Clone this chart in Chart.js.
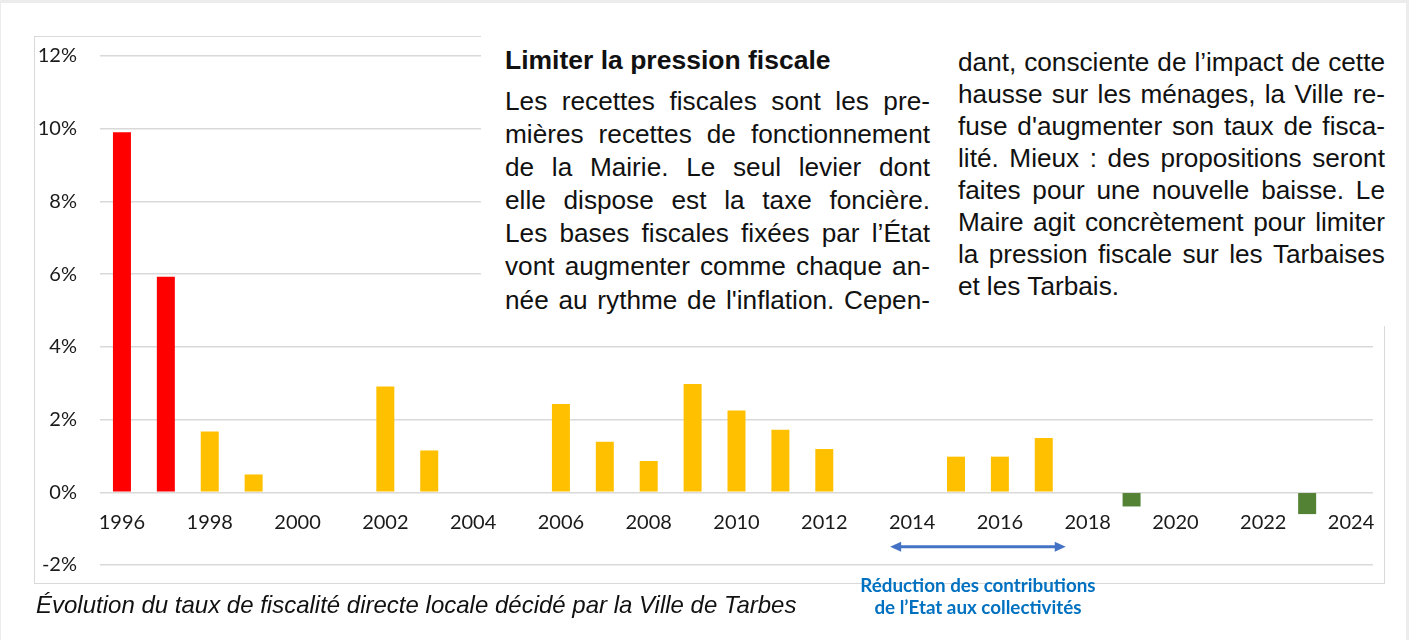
<!DOCTYPE html>
<html lang="fr">
<head>
<meta charset="utf-8">
<title>Évolution du taux de fiscalité directe locale – Tarbes</title>
<script src="https://cdn.jsdelivr.net/npm/chart.js@4.4.1/dist/chart.umd.min.js"></script>
<style>
  html, body { margin: 0; padding: 0; }
  body { width: 1409px; height: 640px; background: #ececec; position: relative; overflow: hidden; }
  #page { position: absolute; left: 1px; top: 3px; width: 1405px; height: 637px; background: #fff; }
  #frame { position: absolute; left: 34px; top: 36px; width: 1349px; height: 546px; border: 1px solid #d9d9d9; }
  #chart { position: absolute; left: 0; top: 0; }
  #textbox { position: absolute; left: 481px; top: 30px; width: 925px; height: 296px; background: #fff; }
  .col { position: absolute; font-family: "Liberation Sans", Arial, Helvetica, sans-serif; font-size: 26.2px; color: #111; }
  .line { display: flex; justify-content: space-between; white-space: nowrap; }
  #col1 .line { height: 33.2px; line-height: 33.2px; }
  #col2 .line { height: 32px; line-height: 32px; }
  .line.last { justify-content: flex-start; gap: 7px; }
  h2 { margin: 0; font-size: 26.5px; font-weight: bold; line-height: 32px; height: 40.5px; }
  #caption { position: absolute; left: 36px; top: 591px; font-family: "Liberation Sans", Arial, sans-serif; font-style: italic; font-size: 24px; color: #111; }
</style>
</head>
<body>
<div id="page"></div>
<div id="frame"></div>
<canvas id="chart" width="1409" height="640"></canvas>
<div id="textbox">
  <div class="col" id="col1" style="left:24px; top:14px; width:425px;">
    <h2>Limiter la pression fiscale</h2>
  </div>
  <div class="col" id="col2" style="left:477px; top:16px; width:427px;"></div>
</div>
<div id="caption">Évolution du taux de fiscalité directe locale décidé par la Ville de Tarbes</div>
<script>
// years on the x axis
const years = ['1996', '1997', '1998', '1999', '2000', '2001', '2002', '2003', '2004', '2005',
  '2006', '2007', '2008', '2009', '2010', '2011', '2012', '2013', '2014', '2015',
  '2016', '2017', '2018', '2019', '2020', '2021', '2022', '2023', '2024'];

// variation du taux (%), null = pas de changement
const rates = [9.9, 5.93, 1.67, 0.49, null, null, 2.91, 1.15, null, null,
  2.43, 1.39, 0.86, 2.98, 2.25, 1.72, 1.19, null, null, 0.98,
  0.98, 1.49, null, -0.39, null, null, null, -0.6, null];

const yTicks = { min: -2, max: 12, step: 2 };

// period of reduced state contributions (arrow) and its label
const reductionFrom = '2014';
const reductionTo = '2017';
const reductionLevel = -1.5;
const reductionLabel = ['Réduction des contributions', 'de l\u2019Etat aux collectivités'];

const col1Lines = [
  'Les recettes fiscales sont les pre-',
  'mières recettes de fonctionnement',
  'de la Mairie. Le seul levier dont',
  'elle dispose est la taxe foncière.',
  'Les bases fiscales fixées par l\u2019État',
  'vont augmenter comme chaque an-',
  'née au rythme de l\'inflation. Cepen-'
];
const col2Lines = [
  'dant, consciente de l\u2019impact de cette',
  'hausse sur les ménages, la Ville re-',
  'fuse d\'augmenter son taux de fisca-',
  'lité. Mieux : des propositions seront',
  'faites pour une nouvelle baisse. Le',
  'Maire agit concrètement pour limiter',
  'la pression fiscale sur les Tarbaises',
  'et les Tarbais.'
];

function fillColumn(el, lines, lastLoose) {
  lines.forEach((txt, i) => {
    const div = document.createElement('div');
    div.className = 'line' + (lastLoose && i === lines.length - 1 ? ' last' : '');
    txt.split(' ').forEach(w => {
      const s = document.createElement('span');
      s.textContent = w;
      div.appendChild(s);
    });
    el.appendChild(div);
  });
}
fillColumn(document.getElementById('col1'), col1Lines, false);
fillColumn(document.getElementById('col2'), col2Lines, true);

function barColor(ctx) {
  const v = ctx.raw;
  const year = Number(years[ctx.dataIndex]);
  if (v < 0) return '#548235';
  if (year < 1998) return '#ff0000';
  return '#ffc000';
}

const reductionArrow = {
  id: 'reductionArrow',
  afterDraw(chart) {
    const { ctx, scales: { x, y } } = chart;
    const step = x.getPixelForValue(1) - x.getPixelForValue(0);
    const x1 = x.getPixelForValue(years.indexOf(reductionFrom)) - step / 2;
    const x2 = x.getPixelForValue(years.indexOf(reductionTo)) + step / 2;
    const yy = y.getPixelForValue(reductionLevel);
    ctx.save();
    ctx.strokeStyle = '#4472c4';
    ctx.fillStyle = '#4472c4';
    ctx.lineWidth = 3;
    ctx.beginPath();
    ctx.moveTo(x1 + 8, yy);
    ctx.lineTo(x2 - 8, yy);
    ctx.stroke();
    [[x1, 1], [x2, -1]].forEach(([px, dir]) => {
      ctx.beginPath();
      ctx.moveTo(px, yy);
      ctx.lineTo(px + dir * 11, yy - 5);
      ctx.lineTo(px + dir * 11, yy + 5);
      ctx.closePath();
      ctx.fill();
    });
    ctx.font = 'bold 18.8px Lato, "Open Sans", sans-serif';
    ctx.fillStyle = '#0070c0';
    ctx.textAlign = 'center';
    ctx.textBaseline = 'middle';
    const cx = (x1 + x2) / 2;
    ctx.fillText(reductionLabel[0], cx, 586);
    ctx.fillText(reductionLabel[1], cx, 608);
    ctx.restore();
  }
};

new Chart(document.getElementById('chart'), {
  type: 'bar',
  data: {
    labels: years,
    datasets: [{
      data: rates,
      backgroundColor: barColor,
      barPercentage: 0.41,
      categoryPercentage: 1
    }]
  },
  options: {
    responsive: false,
    animation: false,
    devicePixelRatio: 1,
    layout: { padding: { left: 0, top: 56, right: 36, bottom: 75 } },
    plugins: { legend: { display: false }, tooltip: { enabled: false } },
    scales: {
      y: {
        min: yTicks.min,
        max: yTicks.max,
        afterFit: s => { s.width = 100; },
        grid: { color: '#d9d9d9', lineWidth: 1.5, drawTicks: false },
        border: { display: false },
        ticks: {
          stepSize: yTicks.step,
          padding: 23,
          color: '#1a1a1a',
          font: { family: 'Lato', size: 20 },
          callback: v => v + '%'
        }
      },
      x: {
        position: { y: 0 },
        offset: true,
        grid: { display: false, drawTicks: false },
        border: { display: false },
        ticks: {
          autoSkip: false,
          maxRotation: 0,
          padding: 18,
          color: '#1a1a1a',
          font: { family: 'Lato', size: 20 },
          callback: (v, i) => (i % 2 === 0 ? years[i] : '')
        }
      }
    }
  },
  plugins: [reductionArrow]
});
</script>
</body>
</html>
